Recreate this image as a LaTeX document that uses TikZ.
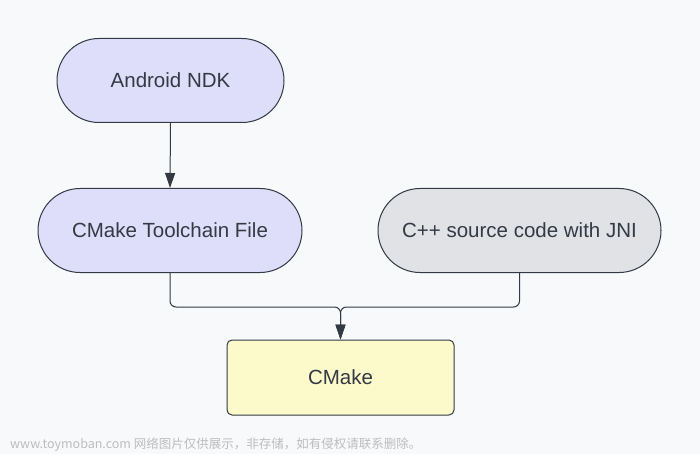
\documentclass[tikz,border=0pt]{standalone}
\usepackage{fontspec}
\setmainfont{Liberation Sans}
\newfontfamily\cjk{Noto Sans CJK SC}
\usetikzlibrary{arrows.meta}
\definecolor{bgc}{HTML}{F8F9FB}
\definecolor{lav}{HTML}{DEDEFA}
\definecolor{grayfill}{HTML}{E1E2E6}
\definecolor{yel}{HTML}{FCFACB}
\definecolor{edge}{HTML}{333A44}
\definecolor{wm}{HTML}{BDBDBD}
\tikzset{
  pill/.style={draw=edge, line width=1pt, rounded corners=42pt, minimum width=#1, minimum height=84pt, inner sep=0pt, font=\fontsize{20.5}{24}\selectfont, text=edge},
  boxy/.style={draw=edge, line width=1pt, rounded corners=5pt, minimum width=227pt, minimum height=75pt, inner sep=0pt, font=\fontsize{20.5}{24}\selectfont, text=edge},
  conn/.style={draw=edge, line width=1pt},
  tip/.style={-{Triangle[length=15pt,width=10pt]}}
}
\begin{document}
\begin{tikzpicture}[x=1pt,y=-1pt]
\fill[bgc] (0,0) rectangle (700,454);
\useasboundingbox (0,0) rectangle (700,454);
\node[pill=227pt, fill=lav] (ndk) at (170.5,80.5) {Android NDK};
\node[pill=264pt, fill=lav] (tc) at (170,230.5) {CMake Toolchain File};
\node[pill=283pt, fill=grayfill] (cpp) at (519.5,230.5) {C++ source code with JNI};
\node[boxy, fill=yel] (cm) at (340.5,377.5) {CMake};
\coordinate (join) at (340.5,307);
\draw[conn, tip] (ndk.south) -- (tc.north);
\draw[conn, tip, rounded corners=6pt] (tc.south) |- (join) -- (cm.north);
\draw[conn, tip, rounded corners=6pt] (cpp.south) |- (join) -- (cm.north);
\node[anchor=west, inner sep=0pt, text=wm, font=\cjk\fontsize{12.5}{14}\selectfont] (wmk) at (10,445) {www.toymoban.com 网络图片仅供展示，非存储，如有侵权请联系删除。};
\end{tikzpicture}
\end{document}
